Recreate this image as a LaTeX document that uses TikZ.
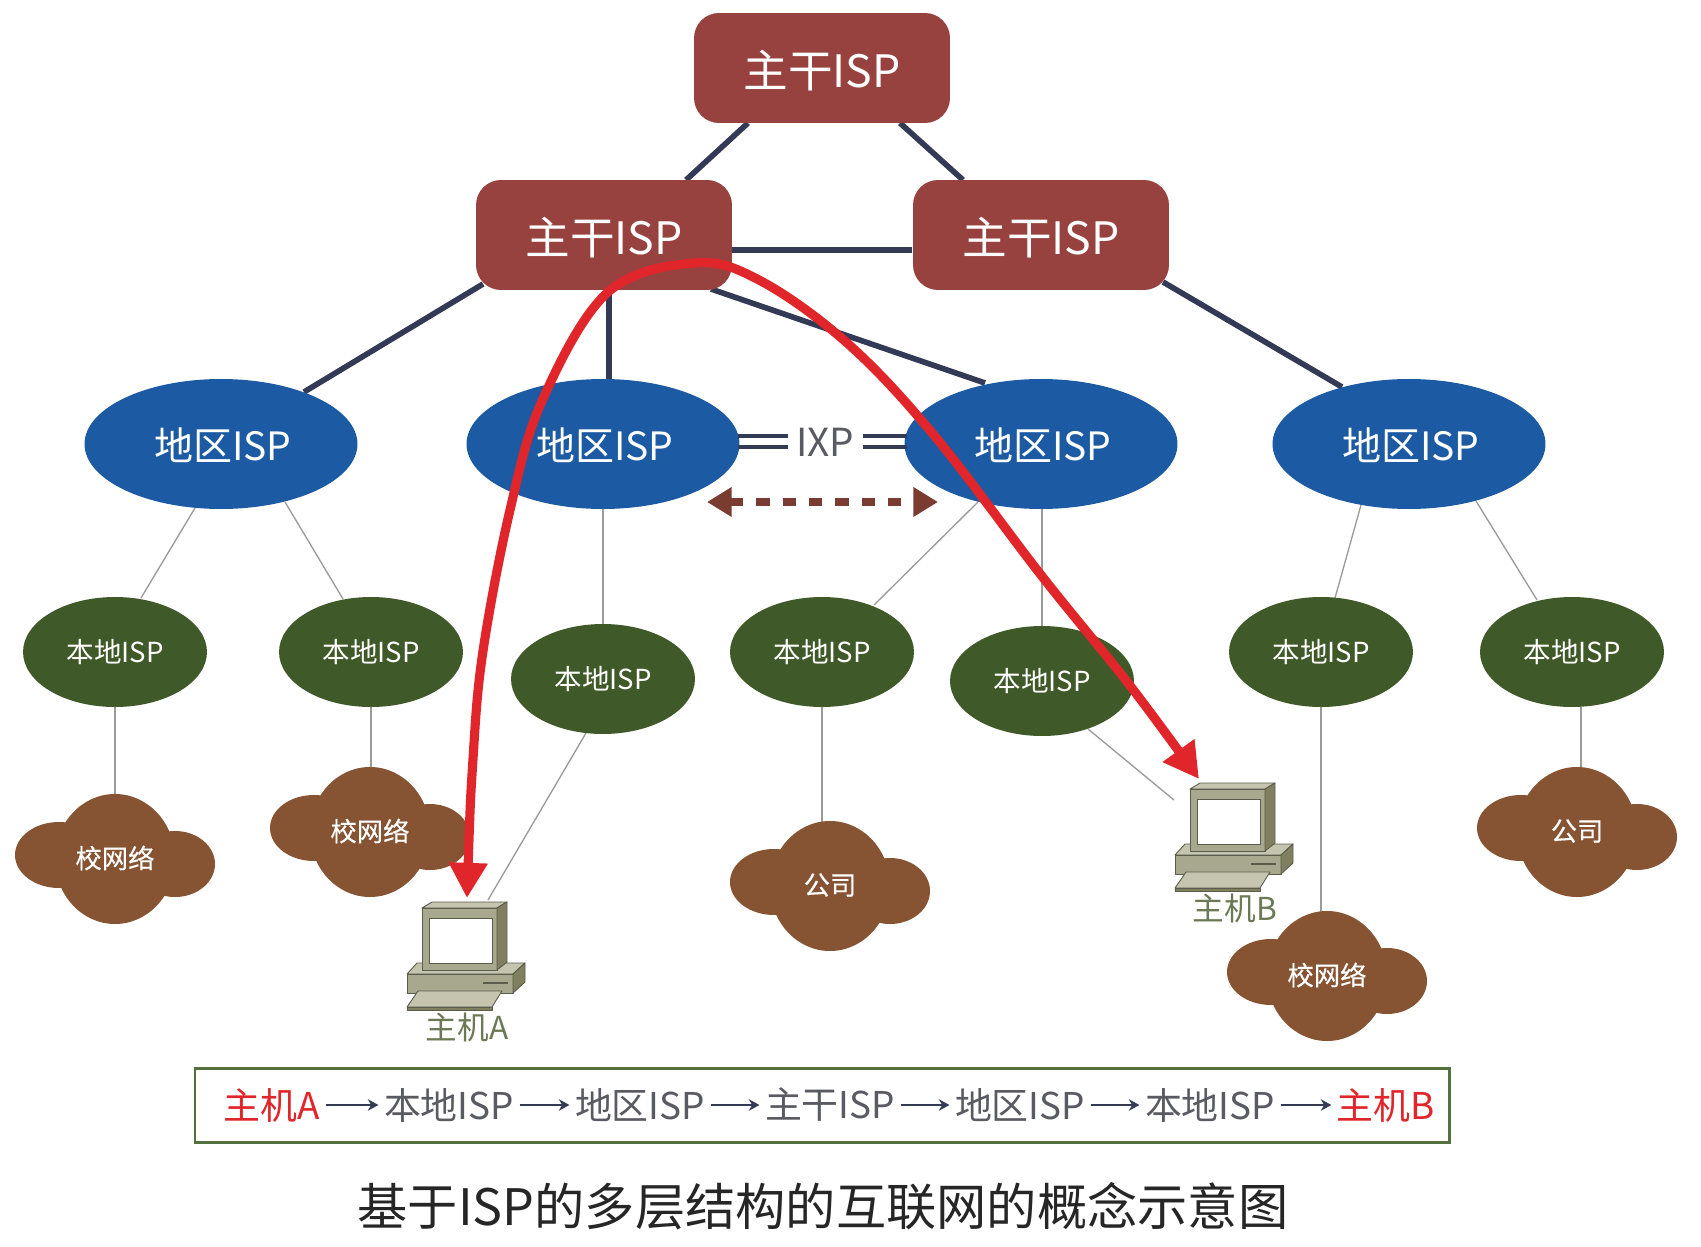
\documentclass[tikz,border=0pt]{standalone}
\usepackage{fontspec}
\setmainfont{Noto Sans CJK SC}
\newfontfamily\medfont[FakeBold=0.35]{Noto Sans CJK SC}
\usetikzlibrary{shapes.geometric,calc,arrows.meta}
\pgfdeclarelayer{bg}
\pgfsetlayers{bg,main}
\definecolor{backc}{HTML}{98423F}
\definecolor{regc}{HTML}{1C5BA3}
\definecolor{locc}{HTML}{3F5A28}
\definecolor{cloudc}{HTML}{865433}
\definecolor{navyc}{HTML}{333A55}
\definecolor{thinc}{HTML}{9A9A9A}
\definecolor{redc}{HTML}{E1262B}
\definecolor{ixpc}{HTML}{7A3B30}
\definecolor{seqc}{HTML}{5A5A62}
\definecolor{hostc}{HTML}{6B7A55}
\definecolor{boxc}{HTML}{55703F}
\definecolor{hfront}{HTML}{A8A88F}
\definecolor{htop}{HTML}{C4C4AF}
\definecolor{hside}{HTML}{80805F}
\definecolor{hline}{HTML}{5A5C4C}
\newcommand{\tl}[1]{\raisebox{-.38em}[0pt][0pt]{#1}}
\newcommand{\tb}[1]{\raisebox{\dimexpr-.38em-1.2pt\relax}[0pt][0pt]{#1}}
\newcommand{\tr}[1]{\hspace*{2pt}\raisebox{\dimexpr-.38em-1.2pt\relax}[0pt][0pt]{#1}}
\tikzset{
  backbone/.style={rectangle,rounded corners=0.5cm,fill=backc,text=white,minimum width=5.12cm,minimum height=2.2cm,inner sep=0pt,font=\fontsize{25.4pt}{30pt}\selectfont},
  regional/.style={ellipse,fill=regc,text=white,minimum width=5.46cm,minimum height=2.6cm,inner sep=0pt,font=\fontsize{22.2pt}{26pt}\selectfont},
  localisp/.style={ellipse,fill=locc,text=white,minimum width=3.68cm,minimum height=2.2cm,inner sep=0pt,font=\fontsize{15.7pt}{20pt}\selectfont},
  cloudtext/.style={text=white,inner sep=0pt,minimum width=2.2cm,minimum height=2.6cm,font=\fontsize{15pt}{18pt}\medfont},
  hostbox/.style={inner sep=0pt,minimum width=1.6cm,minimum height=1.4cm},
  hostlabel/.style={inner sep=0pt,text=hostc,font=\fontsize{18pt}{22pt}\selectfont},
  thick link/.style={draw=navyc,line width=3.2pt},
  thin link/.style={draw=thinc,line width=0.75pt},
  ixpline/.style={draw=navyc,line width=2pt},
  seqtext/.style={inner sep=3pt,text=seqc,font=\fontsize{21pt}{25pt}\selectfont},
  seqred/.style={inner sep=3pt,text=redc,font=\fontsize{21pt}{25pt}\selectfont},
  seqarrow/.style={draw=navyc,line width=1.2pt,-{Stealth[length=6pt,width=6.5pt]}},
  redpath/.style={draw=redc,line width=5.2pt,{Triangle[length=20pt,width=21pt]}-{Triangle[length=20pt,width=21pt]}},
  peerarrow/.style={draw=ixpc,line width=4pt,dash pattern=on 7.5pt off 7.5pt,{Triangle[length=14pt,width=16pt]}-{Triangle[length=14pt,width=16pt]}},
  hostedge/.style={draw=hline,line width=0.5pt,line join=round}
}
\newcommand{\cloudblob}[4]{%
  \begin{scope}[shift={(#2,#3)}]
    \fill[cloudc] (0,0) ellipse [x radius=60,y radius=65];
    \fill[cloudc] (-56,-4) ellipse [x radius=44,y radius=33];
    \fill[cloudc] (60,5) ellipse [x radius=40,y radius=33];
    \node[cloudtext] (#1) at (0,-1) {#4};
  \end{scope}}
\newcommand{\hostart}[2]{%
  \begin{scope}[shift={(#1,#2)}]
    \filldraw[hostedge,fill=htop] (407,974)--(417,963)--(525,963)--(513,974)--cycle;
    \filldraw[hostedge,fill=hfront] (407,974)--(513,974)--(513,993)--(407,993)--cycle;
    \filldraw[hostedge,fill=hside] (513,974)--(525,963)--(525,982)--(513,993)--cycle;
    \draw[hline,line width=0.9pt] (483,983)--(508,983);
    \filldraw[hostedge,fill=htop] (422,908)--(432,902)--(507,902)--(497,908)--cycle;
    \filldraw[hostedge,fill=hfront] (422,908)--(497,908)--(497,970)--(422,970)--cycle;
    \filldraw[hostedge,fill=hside] (497,908)--(507,902)--(507,962)--(497,970)--cycle;
    \filldraw[hline,line width=0.4pt,fill=white] (429,918) rectangle (492,963);
    \filldraw[hostedge,fill=htop] (407,1007)--(418,991)--(502,991)--(492,1007)--cycle;
    \filldraw[hostedge,fill=hside] (407,1007)--(492,1007)--(492,1010)--(407,1010)--cycle;
  \end{scope}}
\begin{document}
\begin{tikzpicture}[x=0.02cm,y=-0.02cm]
\useasboundingbox (0,0) rectangle (1701,1247);
% backbone
\node[backbone] (top) at (822,68) {\tb{主干ISP}};
\node[backbone] (bl) at (604,235) {\tb{主干ISP}};
\node[backbone] (br) at (1041,235) {\tb{主干ISP}};
% regional
\node[regional] (r1) at (221,444) {\tr{地区ISP}};
\node[regional] (r2) at (603,444) {\tr{地区ISP}};
\node[regional] (r3) at (1041,444) {\tr{地区ISP}};
\node[regional] (r4) at (1409,444) {\tr{地区ISP}};
% local
\node[localisp] (l1) at (115,652) {\tl{本地ISP}};
\node[localisp] (l2) at (371,652) {\tl{本地ISP}};
\node[localisp] (l3) at (603,679) {\tl{本地ISP}};
\node[localisp] (l4) at (822,652) {\tl{本地ISP}};
\node[localisp] (l5) at (1042,681) {\tl{本地ISP}};
\node[localisp] (l6) at (1321,652) {\tl{本地ISP}};
\node[localisp] (l7) at (1572,652) {\tl{本地ISP}};
% clouds
\cloudblob{c1}{115}{859}{校网络}
\cloudblob{c2}{370}{832}{校网络}
\cloudblob{c3}{830}{886}{公司}
\cloudblob{c4}{1327}{976}{校网络}
\cloudblob{c5}{1577}{832}{公司}
% hosts
\hostart{0}{0}
\hostart{768}{-119}
\node[hostbox] (hostA) at (470,935) {};
\node[hostbox] (hostB) at (1238,816) {};
\node[hostlabel] (labA) at (467,1027) {主机A};
\node[hostlabel] (labB) at (1235,908) {主机B};
% connectors
\begin{pgfonlayer}{bg}
\fill[white] (0,0) rectangle (1701,1247);
\draw[thick link] ($(top)+(-74,55)$) -- ($(bl)+(82,-55)$);
\draw[thick link] ($(top)+(78,55)$) -- ($(br)+(-78,-55)$);
\draw[thick link] ($(bl)+(128,15)$) -- ($(br)+(-129,15)$);
\draw[thick link] ($(bl)+(-121,49)$) -- ($(r1)+(83,-52)$);
\draw[thick link] ($(bl)+(5,56)$) -- ($(r2)+(6,-64)$);
\draw[thick link] ($(bl)+(107,54)$) -- ($(r3)+(-56,-61)$);
\draw[thick link] ($(br)+(122,47)$) -- ($(r4)+(-67,-57)$);
\draw[thin link] ($(r1)+(-26,64)$) -- ($(l1)+(26,-54)$);
\draw[thin link] ($(r1)+(64,58)$) -- ($(l2)+(-28,-53)$);
\draw[thin link] ($(r2)+(0,65)$) -- ($(l3)+(0,-55)$);
\draw[thin link] ($(r3)+(-63,58)$) -- ($(l4)+(52,-47)$);
\draw[thin link] ($(r3)+(1,65)$) -- ($(l5)+(0,-55)$);
\draw[thin link] ($(r4)+(-48,61)$) -- ($(l6)+(14,-54)$);
\draw[thin link] ($(r4)+(67,57)$) -- ($(l7)+(-35,-52)$);
\draw[thin link] ($(l1)+(0,55)$) -- ($(c1)+(0,-60)$);
\draw[thin link] ($(l2)+(0,55)$) -- ($(c2)+(1,-60)$);
\draw[thin link] ($(l3)+(-17,54)$) -- ($(hostA)+(18,-35)$);
\draw[thin link] ($(l4)+(0,55)$) -- ($(c3)+(-8,-60)$);
\draw[thin link] ($(l5)+(46,48)$) -- ($(hostB)+(-64,-16)$);
\draw[thin link] ($(l6)+(0,55)$) -- ($(c4)+(-6,-60)$);
\draw[thin link] ($(l7)+(9,55)$) -- ($(c5)+(4,-60)$);
\end{pgfonlayer}
% IXP
\node[inner sep=0pt,text=seqc,font=\fontsize{22pt}{26pt}\selectfont] (ixp) at (825,442) {IXP};
\draw[ixpline] ($(r2)+(135,-8)$) -- ($(ixp)+(-37,-6)$);
\draw[ixpline] ($(r2)+(135,3)$) -- ($(ixp)+(-37,5)$);
\draw[ixpline] ($(ixp)+(38,-6)$) -- ($(r3)+(-134,-8)$);
\draw[ixpline] ($(ixp)+(38,5)$) -- ($(r3)+(-134,3)$);
\coordinate (pl) at ($(r2)+(104,58)$);
\coordinate (pr) at ($(r3)+(-103,58)$);
\draw[peerarrow] (pl) -- (pr);
% route box
\draw[boxc,line width=1.7pt] (195,1068) rectangle (1449,1142);
\node[seqred] (p1) at (272,1105) {主机A};
\node[seqtext] (p2) at (449,1105) {本地ISP};
\node[seqtext] (p3) at (640,1105) {地区ISP};
\node[seqtext] (p4) at (830,1105) {主干ISP};
\node[seqtext] (p5) at (1020,1105) {地区ISP};
\node[seqtext] (p6) at (1210,1105) {本地ISP};
\node[seqred] (p7) at (1386,1105) {主机B};
\draw[seqarrow] (p1) -- (p2);
\draw[seqarrow] (p2) -- (p3);
\draw[seqarrow] (p3) -- (p4);
\draw[seqarrow] (p4) -- (p5);
\draw[seqarrow] (p5) -- (p6);
\draw[seqarrow] (p6) -- (p7);
% title
\node[inner sep=0pt,text=black!85,font=\fontsize{28.6pt}{34pt}\selectfont] (title) at (823,1206) {基于ISP的多层结构的互联网的概念示意图};
% red route
\coordinate (tipA) at ($(hostA)+(-3,-37)$);
\coordinate (tipB) at ($(hostB)+(-39,-37)$);
\draw[redpath] plot[smooth,tension=0.6] coordinates {(tipA) (473,759) (483,651) (510,510) (542,401) (607,293) (694,263) (759,280) (846,342) (933,434) (1041,575) (1128,683) (tipB)};
\end{tikzpicture}
\end{document}
